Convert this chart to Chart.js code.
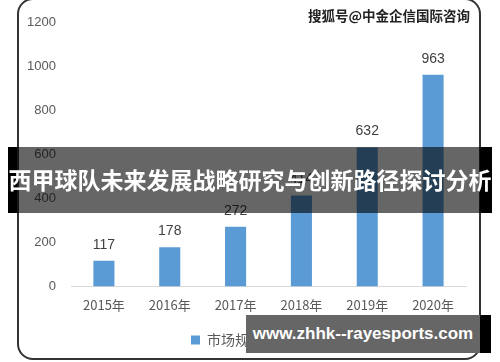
<!DOCTYPE html>
<html>
<head>
<meta charset="utf-8">
<script src="https://cdn.jsdelivr.net/npm/chart.js@4"></script>
<style>
  html, body { margin: 0; padding: 0; background: #fff; }
  #wrap { position: relative; width: 500px; height: 362px; overflow: hidden; font-family: "Noto Sans CJK SC", sans-serif; }
  #frame { position: absolute; left: 17px; top: -2px; width: 460px; height: 358px; border: 2px solid #333; border-radius: 16px; }
  canvas { position: absolute; left: 0; top: 0; }
  .mark { position: absolute; left: 308px; top: 5px; font-size: 13.5px; font-weight: bold; color: #222;
    text-shadow: 1px 0 #fff, -1px 0 #fff, 0 1px #fff, 0 -1px #fff; white-space: nowrap; }
  .band { position: absolute; left: 8px; top: 147px; width: 484px; height: 66px; background: rgba(0,0,0,0.6);
    border-left: 9px solid #000; border-right: 12px solid #000; box-sizing: border-box; }
  .title { position: absolute; left: 0; top: 164px; width: 500px; text-align: center; color: #fff; font-size: 23px;
    font-weight: bold; line-height: 30px; white-space: nowrap; letter-spacing: 0; }
  .site { position: absolute; left: 246px; top: 315px; width: 245px; height: 38px; background: #666;
    border-right: 11px solid #000; box-sizing: border-box; color: #fff; font-family: "Liberation Sans", sans-serif;
    font-weight: bold; font-size: 17px; line-height: 38px; text-align: center; white-space: nowrap; }
</style>
</head>
<body>
<div id="wrap">
  <canvas id="chart" width="500" height="362"></canvas>
  <div id="frame"></div>
  <div class="mark">搜狐号@中金企信国际咨询</div>
  <div class="band"></div>
  <div class="title">西甲球队未来发展战略研究与创新路径探讨分析</div>
  <div class="site">www.zhhk--rayesports.com</div>
</div>
<script>
const years = ['2015年', '2016年', '2017年', '2018年', '2019年', '2020年'];
const marketSize = [117, 178, 272, 414, 632, 963];
const seriesName = '市场规模（亿元）';

const valueLabels = {
  id: 'valueLabels',
  afterDatasetsDraw(c) {
    const ctx = c.ctx;
    const meta = c.getDatasetMeta(0);
    ctx.save();
    ctx.font = '14px "Liberation Sans", sans-serif';
    ctx.fillStyle = '#404040';
    ctx.textAlign = 'center';
    ctx.textBaseline = 'bottom';
    meta.data.forEach((bar, i) => {
      ctx.fillText(marketSize[i], bar.x, bar.y - 9);
    });
    ctx.restore();
  }
};

// nudge the legend a bit right, like the original
const legendShift = {
  id: 'legendShift',
  afterUpdate(c) {
    c.legend.left += 22;
    c.legend.right += 22;
  }
};

new Chart(document.getElementById('chart').getContext('2d'), {
  type: 'bar',
  data: {
    labels: years,
    datasets: [{
      label: seriesName,
      data: marketSize,
      backgroundColor: '#5b9bd5',
      categoryPercentage: 1,
      barPercentage: 0.32
    }]
  },
  options: {
    responsive: false,
    animation: false,
    layout: { padding: { top: 16, right: 34, bottom: 5, left: 0 } },
    plugins: {
      tooltip: { enabled: false },
      legend: {
        position: 'bottom',
        labels: {
          boxWidth: 9, boxHeight: 9, color: '#595959',
          font: { size: 14, family: '"Noto Sans CJK SC", sans-serif' },
          padding: 8
        }
      }
    },
    scales: {
      x: {
        grid: { display: false },
        border: { display: true, color: '#d9d9d9' },
        ticks: { color: '#595959', padding: 3, font: { size: 13, family: '"Noto Sans CJK SC", sans-serif' } },
        afterFit(s) { s.height += 9; }
      },
      y: {
        min: 0, max: 1200,
        grid: { display: false, drawTicks: false },
        border: { display: false },
        ticks: { stepSize: 200, color: '#595959', padding: 15, font: { size: 13, family: '"Liberation Sans", sans-serif' },
          callback: v => String(v) },
        afterFit(s) { s.width = 71; }
      }
    }
  },
  plugins: [valueLabels, legendShift]
});
</script>
</body>
</html>
